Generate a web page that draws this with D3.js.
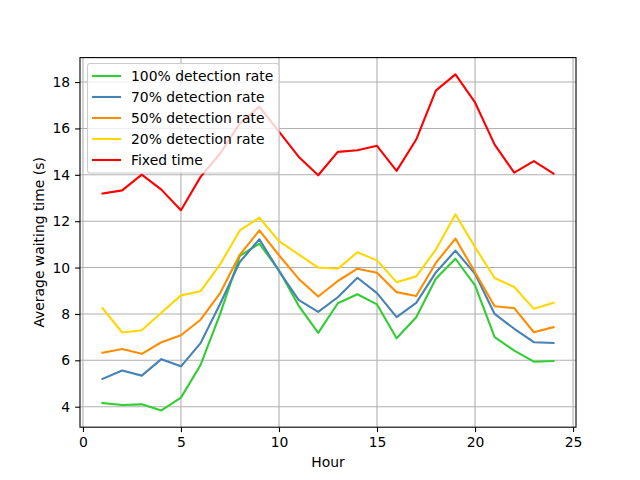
<!DOCTYPE html>
<html>
<head>
<meta charset="utf-8">
<script src="https://cdn.jsdelivr.net/npm/d3@7"></script>
<style>
  body { margin: 0; background: #fff; }
  svg { font-family: "DejaVu Sans", sans-serif; }
</style>
</head>
<body>
<svg id="chart" width="640" height="480"></svg>
<script>
const hours = d3.range(1, 25);

const rate100 = [4.16, 4.07, 4.10, 3.84, 4.39, 5.80, 8.00, 10.50, 11.03, 9.88, 8.36, 7.18,
                 8.46, 8.85, 8.41, 6.95, 7.86, 9.52, 10.38, 9.23, 7.00, 6.42, 5.94, 5.97];
const rate70 = [5.20, 5.56, 5.34, 6.05, 5.74, 6.74, 8.44, 10.24, 11.22, 9.85, 8.61, 8.09,
                8.72, 9.56, 8.90, 7.86, 8.48, 9.79, 10.73, 9.73, 8.00, 7.36, 6.78, 6.75];
const rate50 = [6.33, 6.49, 6.28, 6.78, 7.08, 7.75, 8.90, 10.55, 11.60, 10.53, 9.52, 8.75,
                9.42, 9.95, 9.78, 8.94, 8.77, 10.20, 11.25, 9.80, 8.33, 8.25, 7.21, 7.43];
const rate20 = [8.25, 7.20, 7.30, 8.05, 8.80, 8.98, 10.14, 11.60, 12.15, 11.14, 10.57, 10.00,
                9.95, 10.66, 10.31, 9.37, 9.62, 10.77, 12.30, 10.88, 9.55, 9.16, 8.22, 8.48];
const fixedTime = [13.19, 13.33, 14.01, 13.36, 12.47, 13.91, 14.92, 16.22, 16.94, 15.86, 14.78, 13.98,
                   14.99, 15.06, 15.25, 14.17, 15.52, 17.63, 18.33, 17.12, 15.30, 14.09, 14.59, 14.05];

const seriesNames = ['100% detection rate', '70% detection rate', '50% detection rate', '20% detection rate', 'Fixed time'];
const seriesColors = ['#32cd32', '#4682b4', '#ff8c00', '#ffd700', '#ff0000'];
const xTicks = [0, 5, 10, 15, 20, 25];
const yTicks = [4, 6, 8, 10, 12, 14, 16, 18];

const series = [rate100, rate70, rate50, rate20, fixedTime];

const svg = d3.select('#chart');
const plot = { left: 80, right: 576, top: 57.6, bottom: 427.2 };
const fontSize = 13.9;

// matplotlib style 5% margins around the data
const xMin = d3.min(hours), xMax = d3.max(hours);
const xPad = (xMax - xMin) * 0.05;
const allVals = series.flat();
const yMin = d3.min(allVals), yMax = d3.max(allVals);
const yPad = (yMax - yMin) * 0.05;

const x = d3.scaleLinear().domain([xMin - xPad, xMax + xPad]).range([plot.left, plot.right]);
const y = d3.scaleLinear().domain([yMin - yPad, yMax + yPad]).range([plot.bottom, plot.top]);

// grid
const grid = svg.append('g');
grid.selectAll('.gx').data(xTicks).enter().append('line')
  .attr('x1', d => x(d)).attr('x2', d => x(d))
  .attr('y1', plot.top).attr('y2', plot.bottom)
  .attr('stroke', '#b0b0b0').attr('stroke-width', 1.1);
grid.selectAll('.gy').data(yTicks).enter().append('line')
  .attr('x1', plot.left).attr('x2', plot.right)
  .attr('y1', d => y(d)).attr('y2', d => y(d))
  .attr('stroke', '#b0b0b0').attr('stroke-width', 1.1);

// lines
const line = d3.line().x((d, i) => x(hours[i])).y(d => y(d));
series.forEach((s, i) => {
  svg.append('path')
    .datum(s)
    .attr('d', line)
    .attr('fill', 'none')
    .attr('stroke', seriesColors[i])
    .attr('stroke-width', 2.1)
    .attr('stroke-linejoin', 'round')
    .attr('stroke-linecap', 'square');
});

// axes
const xAxis = d3.axisBottom(x).tickValues(xTicks).tickSize(4.9).tickPadding(4.9).tickFormat(d3.format('d'));
const yAxis = d3.axisLeft(y).tickValues(yTicks).tickSize(4.9).tickPadding(4.9).tickFormat(d3.format('d'));

const gx = svg.append('g').attr('transform', `translate(0,${plot.bottom})`).call(xAxis);
const gy = svg.append('g').attr('transform', `translate(${plot.left},0)`).call(yAxis);
[gx, gy].forEach(g => {
  g.select('.domain').remove();
  g.selectAll('.tick line').attr('stroke', '#000').attr('stroke-width', 1.1);
  g.selectAll('.tick text').attr('fill', '#000').attr('font-size', fontSize)
    .attr('font-family', '"DejaVu Sans", sans-serif');
});

// frame
svg.append('rect')
  .attr('x', plot.left).attr('y', plot.top)
  .attr('width', plot.right - plot.left).attr('height', plot.bottom - plot.top)
  .attr('fill', 'none').attr('stroke', '#000').attr('stroke-width', 1.1);

// axis labels
svg.append('text')
  .attr('x', (plot.left + plot.right) / 2).attr('y', 467)
  .attr('text-anchor', 'middle').attr('font-size', fontSize)
  .text('Hour');
svg.append('text')
  .attr('transform', `translate(44,${(plot.top + plot.bottom) / 2}) rotate(-90)`)
  .attr('text-anchor', 'middle').attr('font-size', fontSize)
  .text('Average waiting time (s)');

// legend
const legend = svg.append('g');
legend.append('rect')
  .attr('x', 87.5).attr('y', 63.5).attr('width', 191.5).attr('height', 109.5)
  .attr('rx', 2.8)
  .attr('fill', '#fff').attr('fill-opacity', 0.8)
  .attr('stroke', '#cccccc').attr('stroke-width', 1.1);
seriesNames.forEach((name, i) => {
  const ly = 76 + i * 21;
  legend.append('line')
    .attr('x1', 92).attr('x2', 121).attr('y1', ly).attr('y2', ly)
    .attr('stroke', seriesColors[i]).attr('stroke-width', 2.1);
  legend.append('text')
    .attr('x', 131).attr('y', ly + 5)
    .attr('font-size', fontSize)
    .text(name);
});
</script>
</body>
</html>
